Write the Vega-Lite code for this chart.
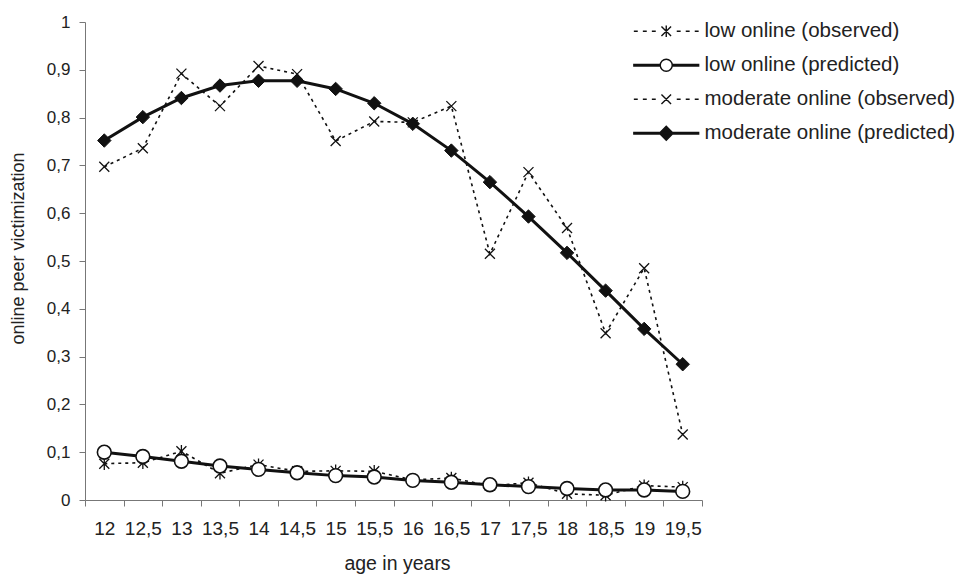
{
  "$schema": "https://vega.github.io/schema/vega-lite/v6.json",
  "width": 617,
  "height": 478,
  "autosize": "none",
  "padding": {"left": 85, "top": 22, "right": 263, "bottom": 74},
  "background": "white",
  "config": {
    "view": {"stroke": null},
    "font": "Liberation Sans, Arial, sans-serif"
  },
  "data": {
    "values": [
      {"age": 12, "series": "low online (observed)", "value": 0.076},
      {"age": 12.5, "series": "low online (observed)", "value": 0.078},
      {"age": 13, "series": "low online (observed)", "value": 0.102},
      {"age": 13.5, "series": "low online (observed)", "value": 0.056},
      {"age": 14, "series": "low online (observed)", "value": 0.074},
      {"age": 14.5, "series": "low online (observed)", "value": 0.060},
      {"age": 15, "series": "low online (observed)", "value": 0.061},
      {"age": 15.5, "series": "low online (observed)", "value": 0.060},
      {"age": 16, "series": "low online (observed)", "value": 0.042},
      {"age": 16.5, "series": "low online (observed)", "value": 0.046},
      {"age": 17, "series": "low online (observed)", "value": 0.030},
      {"age": 17.5, "series": "low online (observed)", "value": 0.036},
      {"age": 18, "series": "low online (observed)", "value": 0.013},
      {"age": 18.5, "series": "low online (observed)", "value": 0.010},
      {"age": 19, "series": "low online (observed)", "value": 0.030},
      {"age": 19.5, "series": "low online (observed)", "value": 0.027},
      {"age": 12, "series": "low online (predicted)", "value": 0.100},
      {"age": 12.5, "series": "low online (predicted)", "value": 0.091},
      {"age": 13, "series": "low online (predicted)", "value": 0.081},
      {"age": 13.5, "series": "low online (predicted)", "value": 0.071},
      {"age": 14, "series": "low online (predicted)", "value": 0.064},
      {"age": 14.5, "series": "low online (predicted)", "value": 0.057},
      {"age": 15, "series": "low online (predicted)", "value": 0.051},
      {"age": 15.5, "series": "low online (predicted)", "value": 0.048},
      {"age": 16, "series": "low online (predicted)", "value": 0.041},
      {"age": 16.5, "series": "low online (predicted)", "value": 0.037},
      {"age": 17, "series": "low online (predicted)", "value": 0.032},
      {"age": 17.5, "series": "low online (predicted)", "value": 0.028},
      {"age": 18, "series": "low online (predicted)", "value": 0.024},
      {"age": 18.5, "series": "low online (predicted)", "value": 0.021},
      {"age": 19, "series": "low online (predicted)", "value": 0.021},
      {"age": 19.5, "series": "low online (predicted)", "value": 0.018},
      {"age": 12, "series": "moderate online (observed)", "value": 0.697},
      {"age": 12.5, "series": "moderate online (observed)", "value": 0.736},
      {"age": 13, "series": "moderate online (observed)", "value": 0.892},
      {"age": 13.5, "series": "moderate online (observed)", "value": 0.824},
      {"age": 14, "series": "moderate online (observed)", "value": 0.908},
      {"age": 14.5, "series": "moderate online (observed)", "value": 0.891},
      {"age": 15, "series": "moderate online (observed)", "value": 0.751},
      {"age": 15.5, "series": "moderate online (observed)", "value": 0.792},
      {"age": 16, "series": "moderate online (observed)", "value": 0.790},
      {"age": 16.5, "series": "moderate online (observed)", "value": 0.824},
      {"age": 17, "series": "moderate online (observed)", "value": 0.515},
      {"age": 17.5, "series": "moderate online (observed)", "value": 0.686},
      {"age": 18, "series": "moderate online (observed)", "value": 0.569},
      {"age": 18.5, "series": "moderate online (observed)", "value": 0.349},
      {"age": 19, "series": "moderate online (observed)", "value": 0.485},
      {"age": 19.5, "series": "moderate online (observed)", "value": 0.137},
      {"age": 12, "series": "moderate online (predicted)", "value": 0.752},
      {"age": 12.5, "series": "moderate online (predicted)", "value": 0.801},
      {"age": 13, "series": "moderate online (predicted)", "value": 0.841},
      {"age": 13.5, "series": "moderate online (predicted)", "value": 0.867},
      {"age": 14, "series": "moderate online (predicted)", "value": 0.877},
      {"age": 14.5, "series": "moderate online (predicted)", "value": 0.877},
      {"age": 15, "series": "moderate online (predicted)", "value": 0.860},
      {"age": 15.5, "series": "moderate online (predicted)", "value": 0.830},
      {"age": 16, "series": "moderate online (predicted)", "value": 0.787},
      {"age": 16.5, "series": "moderate online (predicted)", "value": 0.731},
      {"age": 17, "series": "moderate online (predicted)", "value": 0.665},
      {"age": 17.5, "series": "moderate online (predicted)", "value": 0.593},
      {"age": 18, "series": "moderate online (predicted)", "value": 0.517},
      {"age": 18.5, "series": "moderate online (predicted)", "value": 0.438},
      {"age": 19, "series": "moderate online (predicted)", "value": 0.358},
      {"age": 19.5, "series": "moderate online (predicted)", "value": 0.284}
    ]
  },
  "encoding": {
    "x": {
      "field": "age",
      "type": "ordinal",
      "scale": {"type": "band", "paddingInner": 0, "paddingOuter": 0},
      "axis": {
        "title": "age in years",
        "labelAngle": 0,
        "labelExpr": "replace(datum.label, '.', ',')",
        "tickBand": "extent",
        "domainColor": "#777",
        "tickColor": "#777",
        "tickSize": 6,
        "labelFont": "Liberation Sans Narrow, Arial Narrow, Liberation Sans, sans-serif",
        "labelFontSize": 19,
        "labelColor": "#222",
        "labelPadding": 13,
        "titleFontSize": 19.5,
        "titleFontWeight": "normal",
        "titleColor": "#222",
        "titlePadding": 16,
        "titleX": 312
      }
    },
    "y": {
      "field": "value",
      "type": "quantitative",
      "scale": {"domain": [0, 1], "nice": false},
      "axis": {
        "title": "online peer victimization",
        "values": [0, 0.1, 0.2, 0.3, 0.4, 0.5, 0.6, 0.7, 0.8, 0.9, 1],
        "labelExpr": "replace(format(datum.value, '~g'), '.', ',')",
        "grid": false,
        "domainColor": "#777",
        "tickColor": "#777",
        "tickSize": 6,
        "labelFontSize": 17,
        "labelColor": "#222",
        "labelPadding": 9,
        "titleFontSize": 18,
        "titleFontWeight": "normal",
        "titleColor": "#222",
        "titlePadding": 19,
        "titleY": 226
      }
    }
  },
  "layer": [
    {
      "transform": [{"filter": "indexof(datum.series, 'observed') >= 0"}],
      "mark": {"type": "line", "color": "#111", "strokeWidth": 1.6, "strokeDash": [3, 4]},
      "encoding": {"detail": {"field": "series"}}
    },
    {
      "transform": [{"filter": "datum.series == 'low online (observed)'"}],
      "mark": {"type": "point", "shape": "M-1,-1L1,1M-1,1L1,-1M0,-1.25L0,1.25", "size": 100, "filled": false, "color": "#111", "strokeWidth": 1.3, "opacity": 1}
    },
    {
      "transform": [{"filter": "datum.series == 'moderate online (observed)'"}],
      "mark": {"type": "point", "shape": "M-1,-1L1,1M-1,1L1,-1", "size": 100, "filled": false, "color": "#111", "strokeWidth": 1.3, "opacity": 1}
    },
    {
      "transform": [{"filter": "indexof(datum.series, 'predicted') >= 0"}],
      "mark": {"type": "line", "color": "#111", "strokeWidth": 3},
      "encoding": {"detail": {"field": "series"}}
    },
    {
      "transform": [{"filter": "datum.series == 'low online (predicted)'"}],
      "mark": {"type": "point", "shape": "circle", "size": 190, "filled": true, "fill": "white", "stroke": "#111", "strokeWidth": 1.6, "opacity": 1}
    },
    {
      "transform": [{"filter": "datum.series == 'moderate online (predicted)'"}],
      "mark": {"type": "point", "shape": "diamond", "size": 180, "filled": true, "fill": "#111", "stroke": "#111", "strokeWidth": 1, "opacity": 1}
    },
    {
      "mark": {"type": "point", "opacity": 0, "size": 144, "strokeWidth": 1.4},
      "encoding": {
        "shape": {
          "field": "series",
          "type": "nominal",
          "scale": {
            "domain": ["low online (observed)", "low online (predicted)", "moderate online (observed)", "moderate online (predicted)"],
            "range": [
              "M-5.4,0L-4.75,0M-3.9,0L-3.25,0M-2.4,0L-1.75,0M1.75,0L2.4,0M3.25,0L3.9,0M4.75,0L5.4,0M-0.8,-0.8L0.8,0.8M-0.8,0.8L0.8,-0.8M0,-0.95L0,0.95",
              "M-5.4,-0.12L-1,-0.12L-1,0.12L-5.4,0.12ZM1,-0.12L5.4,-0.12L5.4,0.12L1,0.12ZM-1,0A1,1 0 1,0 1,0A1,1 0 1,0 -1,0Z",
              "M-5.4,0L-4.75,0M-3.9,0L-3.25,0M-2.4,0L-1.75,0M1.75,0L2.4,0M3.25,0L3.9,0M4.75,0L5.4,0M-0.8,-0.8L0.8,0.8M-0.8,0.8L0.8,-0.8",
              "M-5.4,-0.12L5.4,-0.12L5.4,0.12L-5.4,0.12ZM0,-1.15L1.15,0L0,1.15L-1.15,0Z"
            ]
          },
          "legend": {
            "title": null,
            "orient": "none",
            "legendX": 571,
            "legendY": -1,
            "padding": 0,
            "symbolSize": 144,
            "symbolOpacity": 1,
            "symbolStrokeWidth": 1.4,
            "labelFontSize": 20.5,
            "labelColor": "#222",
            "labelOffset": 28,
            "rowPadding": 13,
            "labelLimit": 400
          }
        },
        "fill": {
          "field": "series",
          "type": "nominal",
          "scale": {
            "domain": ["low online (observed)", "low online (predicted)", "moderate online (observed)", "moderate online (predicted)"],
            "range": ["transparent", "white", "transparent", "#111"]
          },
          "legend": {
            "title": null,
            "orient": "none",
            "legendX": 571,
            "legendY": -1,
            "padding": 0,
            "symbolSize": 144,
            "symbolOpacity": 1,
            "symbolStrokeWidth": 1.4,
            "labelFontSize": 20.5,
            "labelColor": "#222",
            "labelOffset": 28,
            "rowPadding": 13,
            "labelLimit": 400
          }
        },
        "stroke": {
          "field": "series",
          "type": "nominal",
          "scale": {
            "domain": ["low online (observed)", "low online (predicted)", "moderate online (observed)", "moderate online (predicted)"],
            "range": ["#111", "#111", "#111", "#111"]
          },
          "legend": {
            "title": null,
            "orient": "none",
            "legendX": 571,
            "legendY": -1,
            "padding": 0,
            "symbolSize": 144,
            "symbolOpacity": 1,
            "symbolStrokeWidth": 1.4,
            "labelFontSize": 20.5,
            "labelColor": "#222",
            "labelOffset": 28,
            "rowPadding": 13,
            "labelLimit": 400
          }
        }
      }
    }
  ]
}
